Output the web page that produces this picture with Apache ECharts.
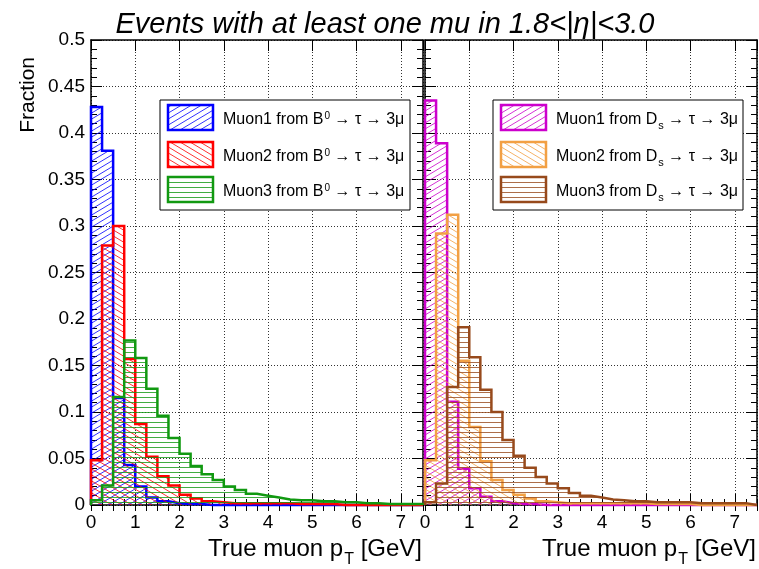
<!DOCTYPE html>
<html>
<head>
<meta charset="utf-8">
<title>True muon pT fractions</title>
<script src="https://cdn.jsdelivr.net/npm/echarts@6.0.0/dist/echarts.min.js"></script>
<style>
  html, body { margin: 0; padding: 0; background: #fff; }
  #chart { width: 759px; height: 569px; }
</style>
</head>
<body>
<div id="chart"></div>
<script>
// Histogram bin edges in true muon pT (GeV), 30 bins of 0.25 GeV
const binEdges = [0, 0.25, 0.5, 0.75, 1, 1.25, 1.5, 1.75, 2, 2.25, 2.5, 2.75, 3, 3.25, 3.5, 3.75,
                  4, 4.25, 4.5, 4.75, 5, 5.25, 5.5, 5.75, 6, 6.25, 6.5, 6.75, 7, 7.25, 7.5];

// Fraction of muons per bin, B0 -> tau -> 3mu
const muon1FromB0 = [0.428, 0.381, 0.115, 0.043, 0.020, 0.008, 0.004, 0.002, 0.001, 0.001,
                     0, 0, 0, 0, 0, 0, 0, 0, 0, 0, 0, 0, 0, 0, 0, 0, 0, 0, 0, 0];
const muon2FromB0 = [0.048, 0.279, 0.300, 0.157, 0.087, 0.052, 0.031, 0.021, 0.011, 0.007,
                     0.004, 0.003, 0.002, 0.002, 0.002, 0.002, 0.002, 0.002, 0.001, 0.001,
                     0.001, 0.001, 0, 0, 0, 0, 0, 0, 0, 0];
const muon3FromB0 = [0.005, 0.021, 0.116, 0.177, 0.158, 0.125, 0.096, 0.072, 0.055, 0.042,
                     0.033, 0.027, 0.020, 0.016, 0.012, 0.010, 0.008, 0.006, 0.005, 0.005,
                     0.004, 0.004, 0.003, 0.003, 0.002, 0.002, 0.001, 0.001, 0.001, 0.001];

// Fraction of muons per bin, Ds -> tau -> 3mu
const muon1FromDs = [0.435, 0.389, 0.111, 0.039, 0.018, 0.009, 0.004, 0.002, 0.001, 0.001,
                     0, 0, 0, 0, 0, 0, 0, 0, 0, 0, 0, 0, 0, 0, 0, 0, 0, 0, 0, 0];
const muon2FromDs = [0.048, 0.292, 0.312, 0.155, 0.084, 0.047, 0.027, 0.016, 0.011, 0.007,
                     0.004, 0.003, 0.002, 0.002, 0.002, 0.002, 0.002, 0.002, 0.002, 0.002,
                     0.001, 0.001, 0.001, 0.001, 0, 0, 0, 0, 0, 0];
const muon3FromDs = [0.003, 0.023, 0.127, 0.191, 0.159, 0.124, 0.100, 0.070, 0.053, 0.040,
                     0.030, 0.023, 0.018, 0.013, 0.010, 0.008, 0.006, 0.005, 0.004, 0.004,
                     0.003, 0.003, 0.003, 0.003, 0.002, 0.002, 0.002, 0.002, 0.002, 0];

// Axis tick labels
const xTickLabels = ['0', '1', '2', '3', '4', '5', '6', '7'];
const yTickLabels = ['0', '0.05', '0.1', '0.15', '0.2', '0.25', '0.3', '0.35', '0.4', '0.45', '0.5'];

// Legend entries (rich text: {sup|..} superscript, {sub|..} subscript)
const legendB0 = ['Muon1 from B{sup|0} → τ → 3μ', 'Muon2 from B{sup|0} → τ → 3μ', 'Muon3 from B{sup|0} → τ → 3μ'];
const legendDs = ['Muon1 from D{sub|s} → τ → 3μ', 'Muon2 from D{sub|s} → τ → 3μ', 'Muon3 from D{sub|s} → τ → 3μ'];

const FONT = '"Liberation Sans", Arial, Helvetica, sans-serif';
const COLORS = {
  blue: '#0000ff', red: '#ff0000', green: '#119911',
  magenta: '#cc00cc', orange: '#f2a044', brown: '#974a1c'
};

// Small repeating tiles used as hatch fills
function hatchTile(color, kind) {
  const c = document.createElement('canvas');
  const w = kind === 'horizontal' ? 8 : 10;
  const h = kind === 'horizontal' ? 5 : 6;
  c.width = w; c.height = h;
  const g = c.getContext('2d');
  g.strokeStyle = color;
  g.lineWidth = 1;
  g.globalAlpha = 0.8;
  g.beginPath();
  if (kind === 'horizontal') {
    g.moveTo(0, 2.5); g.lineTo(w, 2.5);
  } else {
    for (let k = -1; k <= 1; k++) {
      if (kind === 'forward') { g.moveTo(-w, 2 * h + k * h); g.lineTo(2 * w, -h + k * h); }
      else { g.moveTo(-w, -h + k * h); g.lineTo(2 * w, 2 * h + k * h); }
    }
  }
  g.stroke();
  return c;
}

const HATCH = {
  blue: hatchTile(COLORS.blue, 'forward'),
  red: hatchTile(COLORS.red, 'backward'),
  green: hatchTile(COLORS.green, 'horizontal'),
  magenta: hatchTile(COLORS.magenta, 'forward'),
  orange: hatchTile(COLORS.orange, 'backward'),
  brown: hatchTile(COLORS.brown, 'horizontal')
};

// Outline + hatch of one histogram as a stepped line
function histSeries(name, values, key, xAxisIndex, yAxisIndex, z) {
  const pts = [[binEdges[0], 0]];
  for (let i = 0; i < values.length; i++) pts.push([binEdges[i], values[i]]);
  pts.push([binEdges[values.length], 0]);
  return {
    type: 'line', name, data: pts, step: 'end',
    xAxisIndex, yAxisIndex, z,
    symbol: 'none', showSymbol: false, clip: false, silent: true,
    lineStyle: { color: COLORS[key], width: 2.5, join: 'miter' },
    itemStyle: { color: COLORS[key] },
    areaStyle: { color: { image: HATCH[key], repeat: 'repeat' }, opacity: 1, origin: 'start' }
  };
}

function frameAxes(gridIndex, withLabels) {
  const line = { show: true, onZero: false, lineStyle: { color: '#000', width: 1.5 } };
  const base = { type: 'value', gridIndex, min: 0, max: 7.5 };
  const xs = [
    Object.assign({}, base, {
      position: 'bottom', interval: 1, axisLine: line,
      axisTick: { show: true, inside: true, length: 11, lineStyle: { color: '#000', width: 1 } },
      axisLabel: {
        show: true, margin: 8, fontSize: 19, color: '#000', fontFamily: FONT,
        showMaxLabel: false,
        formatter: v => (Number.isInteger(v) ? xTickLabels[v] : '')
      },
      splitLine: { show: true, lineStyle: { color: '#333', type: [1, 2], width: 1 } }
    }),
    Object.assign({}, base, {
      position: 'bottom', interval: 0.25, axisLine: { show: false },
      axisTick: { show: true, inside: true, length: 6, lineStyle: { color: '#000', width: 1 } },
      axisLabel: { show: false }, splitLine: { show: false }
    }),
    Object.assign({}, base, {
      position: 'top', interval: 1, axisLine: line,
      axisTick: { show: true, inside: true, length: 11, lineStyle: { color: '#000', width: 1 } },
      axisLabel: { show: false }, splitLine: { show: false }
    }),
    Object.assign({}, base, {
      position: 'top', interval: 0.25, axisLine: { show: false },
      axisTick: { show: true, inside: true, length: 6, lineStyle: { color: '#000', width: 1 } },
      axisLabel: { show: false }, splitLine: { show: false }
    })
  ];
  const ybase = {
    type: 'value', gridIndex, min: 0, max: 0.5, interval: 0.05, axisLine: line,
    axisTick: { show: true, inside: true, length: 11, lineStyle: { color: '#000', width: 1 } },
    minorTick: { show: true, splitNumber: 5, length: 6, lineStyle: { color: '#000', width: 1 } }
  };
  const ys = [
    Object.assign({}, ybase, {
      position: 'left',
      axisLabel: {
        show: withLabels, margin: 6, fontSize: 19, color: '#000', fontFamily: FONT,
        formatter: (v, i) => yTickLabels[i]
      },
      splitLine: { show: true, lineStyle: { color: '#333', type: [1, 2], width: 1 } }
    }),
    Object.assign({}, ybase, {
      position: 'right', axisLabel: { show: false }, splitLine: { show: false }
    })
  ];
  return { xs, ys };
}

const left = frameAxes(0, true);
const right = frameAxes(1, false);

function legendGroup(x0, labels, keys) {
  const rows = [5, 42, 77];
  const children = [{
    type: 'rect', z: 100,
    shape: { x: 0, y: 0, width: 250, height: 110 },
    style: { fill: '#fff', stroke: '#000', lineWidth: 1 }
  }];
  labels.forEach((txt, i) => {
    children.push({
      type: 'rect', z: 101,
      shape: { x: 8, y: rows[i], width: 45, height: 25 },
      style: { fill: { image: HATCH[keys[i]], repeat: 'repeat' }, stroke: COLORS[keys[i]], lineWidth: 2.5 }
    });
    children.push({
      type: 'text', z: 101, x: 63, y: rows[i] + 15,
      style: {
        text: txt, fontSize: 16, fontFamily: FONT, fill: '#000',
        align: 'left', verticalAlign: 'middle',
        rich: {
          sup: { fontSize: 10, fontFamily: FONT, fill: '#000', padding: [0, 0, 7, 1] },
          sub: { fontSize: 11, fontFamily: FONT, fill: '#000', padding: [11, 0, 0, 1] }
        }
      }
    });
  });
  return { type: 'group', x: x0, y: 100, z: 100, children };
}

function xTitle(xRight) {
  return {
    type: 'text', z: 100, x: xRight, y: 549,
    style: {
      text: 'True muon p{sub|T} [GeV]', fontSize: 24, fontFamily: FONT, fill: '#000',
      align: 'right', verticalAlign: 'middle',
      rich: { sub: { fontSize: 16, fontFamily: FONT, fill: '#000', padding: [22, 0, 0, 1] } }
    }
  };
}

const chart = echarts.init(document.getElementById('chart'), null, { renderer: 'canvas' });
chart.setOption({
  animation: false,
  backgroundColor: '#fff',
  grid: [
    { left: 91, top: 40, width: 332, height: 465, outerBoundsMode: 'none', containLabel: false },
    { left: 425, top: 40, width: 332, height: 465, outerBoundsMode: 'none', containLabel: false }
  ],
  xAxis: left.xs.concat(right.xs),
  yAxis: left.ys.concat(right.ys),
  series: [
    histSeries('Muon1 from B0', muon1FromB0, 'blue', 0, 0, 3),
    histSeries('Muon2 from B0', muon2FromB0, 'red', 0, 0, 4),
    histSeries('Muon3 from B0', muon3FromB0, 'green', 0, 0, 5),
    histSeries('Muon1 from Ds', muon1FromDs, 'magenta', 4, 2, 3),
    histSeries('Muon2 from Ds', muon2FromDs, 'orange', 4, 2, 4),
    histSeries('Muon3 from Ds', muon3FromDs, 'brown', 4, 2, 5)
  ],
  graphic: [
    {
      type: 'text', z: 100, x: 385, y: 25,
      style: {
        text: 'Events with at least one mu in 1.8<|η|<3.0', fontSize: 29, fontStyle: 'italic',
        fontFamily: FONT, fill: '#000', align: 'center', verticalAlign: 'middle'
      }
    },
    {
      type: 'text', z: 100, x: 28, y: 57, rotation: Math.PI / 2,
      style: {
        text: 'Fraction', fontSize: 21, fontFamily: FONT, fill: '#000',
        align: 'right', verticalAlign: 'middle'
      }
    },
    xTitle(422),
    xTitle(756),
    legendGroup(160, legendB0, ['blue', 'red', 'green']),
    legendGroup(493, legendDs, ['magenta', 'orange', 'brown'])
  ]
});
</script>
</body>
</html>
